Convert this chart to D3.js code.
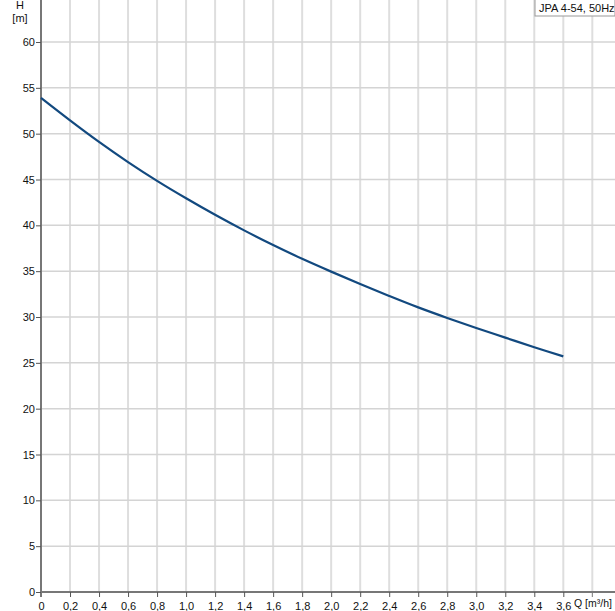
<!DOCTYPE html>
<html>
<head>
<meta charset="utf-8">
<script src="https://cdn.jsdelivr.net/npm/d3@7"></script>
<style>
  body { margin: 0; background: #fff; }
  svg { display: block; font-family: "Liberation Sans", Arial, sans-serif; }
</style>
</head>
<body>
<div id="chart"></div>
<script>
// pump curve
const flow = [0, 0.2, 0.4, 0.6, 0.8, 1.0, 1.2, 1.4, 1.6, 1.8, 2.0, 2.2, 2.4, 2.6, 2.8, 3.0, 3.2, 3.4, 3.6];
const head = [53.9, 51.45, 49.1, 46.9, 44.85, 42.95, 41.15, 39.45, 37.85, 36.35, 34.95, 33.6, 32.3, 31.05, 29.9, 28.8, 27.75, 26.7, 25.7];
const xTicks = [0, 0.2, 0.4, 0.6, 0.8, 1.0, 1.2, 1.4, 1.6, 1.8, 2.0, 2.2, 2.4, 2.6, 2.8, 3.0, 3.2, 3.4, 3.6, 3.8];
const yTicks = [0, 5, 10, 15, 20, 25, 30, 35, 40, 45, 50, 55, 60];
const legendLabel = 'JPA 4-54, 50Hz';

const width = 615, height = 611;
const left = 41, bottom = 592;

const svg = d3.select('#chart').append('svg')
  .attr('width', width)
  .attr('height', height);

const x = d3.scaleLinear().domain([0, 3.6]).range([left, 563.3]);
const y = d3.scaleLinear().domain([0, 60]).range([bottom, 42]);

const fmt = d => d3.format('.1f')(d).replace('.', ',');

// grid
svg.append('g')
  .selectAll('line')
  .data(xTicks.slice(1))
  .enter().append('line')
  .attr('x1', d => x(d)).attr('x2', d => x(d))
  .attr('y1', 0).attr('y2', bottom)
  .attr('stroke', '#dedede')
  .attr('stroke-width', 2);

svg.append('g')
  .selectAll('line')
  .data(yTicks.slice(1))
  .enter().append('line')
  .attr('x1', left).attr('x2', width)
  .attr('y1', d => y(d)).attr('y2', d => y(d))
  .attr('stroke', '#d4d4d4')
  .attr('stroke-width', 1.5);

// axes
const xAxis = svg.append('g')
  .attr('transform', `translate(0,${bottom})`)
  .call(d3.axisBottom(x).tickValues(xTicks.slice(0, -1)).tickFormat(d => d === 0 ? '0' : fmt(d)).tickSize(5).tickSizeOuter(0));
xAxis.append('line')
  .attr('x1', x(3.8)).attr('x2', x(3.8)).attr('y1', 0).attr('y2', 5)
  .attr('stroke', '#777');
xAxis.select('.domain').attr('d', `M${left},0H${width}`);

const yAxis = svg.append('g')
  .attr('transform', `translate(${left},0)`)
  .call(d3.axisLeft(y).tickValues(yTicks).tickSize(5).tickSizeOuter(0));
yAxis.select('.domain').attr('d', `M0,0V${bottom + 5}`);

svg.selectAll('.domain').attr('stroke', '#777').attr('stroke-width', 2);
svg.selectAll('.tick line').attr('stroke', '#555');
svg.selectAll('.tick text')
  .attr('fill', '#111')
  .style('font-size', '11px')
  .style('font-family', '"Liberation Sans", Arial, sans-serif');
xAxis.selectAll('.tick text').attr('dy', '0.9em');
yAxis.selectAll('.tick text').attr('x', -6);

// axis titles
svg.append('text').attr('x', 20).attr('y', 9).attr('text-anchor', 'middle')
  .style('font-size', '11px').attr('fill', '#111').text('H');
svg.append('text').attr('x', 20).attr('y', 22).attr('text-anchor', 'middle')
  .style('font-size', '11px').attr('fill', '#111').text('[m]');
svg.append('text').attr('x', 574).attr('y', 607)
  .style('font-size', '10.5px').attr('fill', '#111').text('Q [m³/h]');

// curve
const pts = flow.map((q, i) => [q, head[i]]);
svg.append('path')
  .datum(pts)
  .attr('fill', 'none')
  .attr('stroke', '#12497f')
  .attr('stroke-width', 2.2)
  .attr('d', d3.line().x(d => x(d[0])).y(d => y(d[1])).curve(d3.curveCatmullRom));

// legend
const lg = svg.append('g');
const lt = lg.append('text')
  .attr('x', 539).attr('y', 12)
  .style('font-size', '11px').attr('fill', '#111')
  .text(legendLabel);
const bb = lt.node().getBBox();
lg.insert('rect', 'text')
  .attr('x', bb.x - 4).attr('y', -1)
  .attr('width', width - bb.x + 4).attr('height', 17)
  .attr('fill', '#fff').attr('stroke', '#999');
</script>
</body>
</html>
